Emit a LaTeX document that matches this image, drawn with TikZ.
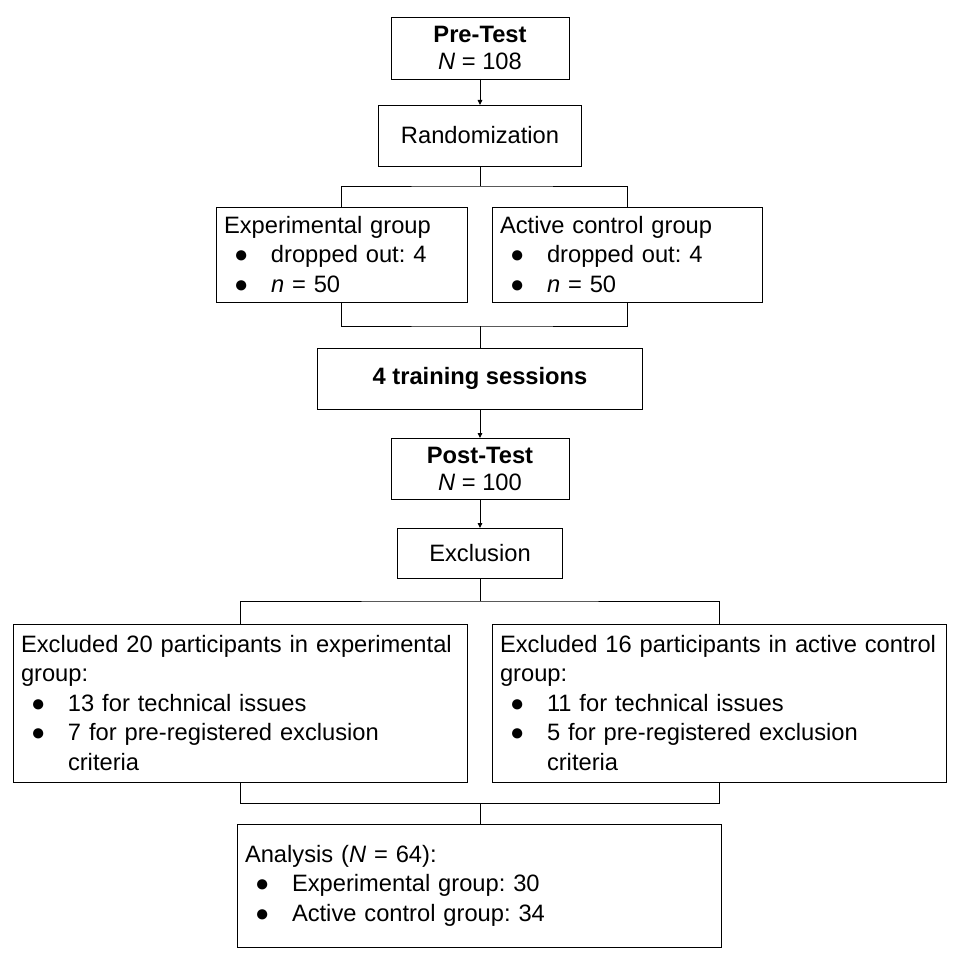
\documentclass[tikz,border=0pt]{standalone}
\usepackage{fontspec}
\setmainfont{Liberation Sans}
\usetikzlibrary{arrows.meta,positioning}
\frenchspacing
\hyphenpenalty=10000
\newcommand{\itm}[1]{\hspace*{10pt}\makebox[37pt][l]{●}#1}
\newcommand{\itmcont}{\hspace*{47pt}}

\begin{document}
\begin{tikzpicture}[x=1pt, y=-1pt,
  box/.style={draw, line width=0.9pt, align=center, inner sep=0pt, outer sep=0pt,
              font=\fontsize{23.7pt}{27pt}\selectfont},
  listbox/.style={draw, line width=0.9pt, align=left, inner xsep=8pt, inner ysep=0pt,
              outer sep=0pt, font=\fontsize{23.7pt}{29.5pt}\selectfont},
  arr/.style={-{Triangle[length=5pt,width=4.5pt]}, line width=0.9pt},
  link/.style={line width=0.9pt}]
  \useasboundingbox (0,0) rectangle (959,963);
  \node[box, minimum width=178pt, minimum height=62pt] (pre) at (480,48) {\textbf{Pre-Test}\\\textit{N} = 108};
  \node[box, minimum width=203pt, minimum height=61pt] (rand) at (480,135.5) {Randomization};
  \node[listbox, text width=235pt, minimum height=95pt] (exp) at (341.5,254.5)
    {Experimental group\\\itm{dropped out: 4}\\\itm{\textit{n} = 50}};
  \node[listbox, text width=254pt, minimum height=95pt] (ctl) at (627,254.5)
    {Active control group\\\itm{dropped out: 4}\\\itm{\textit{n} = 50}};
  \node[box, minimum width=325pt, minimum height=61pt] (train) at (480,378.5) {\textbf{4 training sessions}};
  \node[box, minimum width=178pt, minimum height=61pt] (post) at (480,468.5) {\textbf{Post-Test}\\\textit{N} = 100};
  \node[box, minimum width=165pt, minimum height=50pt] (excl) at (480,553) {Exclusion};
  \node[listbox, text width=438pt, minimum height=158pt] (xexp) at (240,703)
    {\mbox{Excluded 20 participants in experimental}\\group:\\\itm{13 for technical issues}\\
     \itm{7 for pre-registered exclusion}\\\itmcont criteria};
  \node[listbox, text width=438pt, minimum height=158pt] (xctl) at (719,703)
    {\mbox{Excluded 16 participants in active control}\\group:\\\itm{11 for technical issues}\\
     \itm{5 for pre-registered exclusion}\\\itmcont criteria};
  \node[listbox, text width=468pt, minimum height=123pt] (ana) at (479,885.5)
    {Analysis (\textit{N} = 64):\\\itm{Experimental group: 30}\\\itm{Active control group: 34}};
  % split and join points
  \coordinate (splitA) at (480,186);
  \coordinate (joinA) at (480,326);
  \coordinate (splitB) at (480,601);
  \coordinate (joinB) at (480,803);
  \draw[arr] (pre) -- (rand);
  \draw[link] (rand) -- (splitA);
  \draw[link] (exp.north) |- (splitA) -| (ctl.north);
  \draw[link] (exp.south) |- (joinA) -| (ctl.south);
  \draw[link] (joinA) -- (train);
  \draw[arr] (train) -- (post);
  \draw[arr] (post) -- (excl);
  \draw[link] (excl) -- (splitB);
  \draw[link] (xexp.north) |- (splitB) -| (xctl.north);
  \draw[link] (xexp.south) |- (joinB) -| (xctl.south);
  \draw[link] (joinB) -- (ana.north -| joinB);
\end{tikzpicture}
\end{document}
